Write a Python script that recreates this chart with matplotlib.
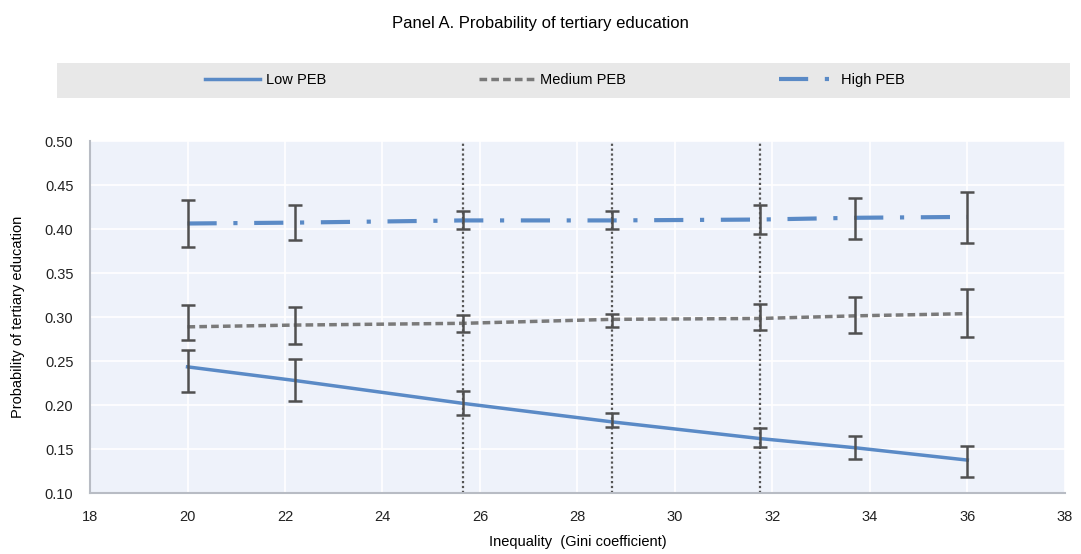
import numpy as np
import matplotlib.pyplot as plt
from matplotlib.lines import Line2D
from matplotlib.patches import Rectangle

plt.rcParams['font.family'] = ['Liberation Sans', 'DejaVu Sans']

# Gini points where predictions were evaluated
gini = [20.0, 22.2, 25.65, 28.7, 31.74, 33.7, 36.0]
# reference lines (vertical, dotted)
gini_marks = [25.65, 28.7, 31.74]

low = [0.2435, 0.228, 0.202, 0.181, 0.162, 0.1515, 0.1375]
low_hi = [0.2625, 0.252, 0.216, 0.191, 0.174, 0.165, 0.1535]
low_lo = [0.215, 0.205, 0.189, 0.175, 0.1525, 0.139, 0.1185]

med = [0.289, 0.291, 0.293, 0.2975, 0.2985, 0.3015, 0.304]
med_hi = [0.314, 0.311, 0.303, 0.304, 0.3145, 0.323, 0.3325]
med_lo = [0.274, 0.270, 0.283, 0.289, 0.285, 0.2815, 0.277]

high = [0.4065, 0.4075, 0.410, 0.410, 0.411, 0.413, 0.414]
high_hi = [0.433, 0.428, 0.421, 0.421, 0.428, 0.4355, 0.442]
high_lo = [0.380, 0.388, 0.400, 0.400, 0.395, 0.389, 0.3845]

blue = '#5a8ac6'
grey = '#7a7a7a'
errc = '#505050'
dashdot = (0, (7, 4, 1, 4))
dashed = (0, (2.2, 1.2))

fig = plt.figure(figsize=(10.81, 5.54), dpi=100)
ax = fig.add_axes([0.0833, 0.110, 0.9017, 0.635])
ax.set_facecolor('#eef2fa')

for xv in gini_marks:
    ax.axvline(xv, color='#555555', lw=1.6, ls=(0, (1, 1.2)), zorder=2)

ax.plot(gini, high, color=blue, lw=3, ls=dashdot, zorder=3)
ax.plot(gini, med, color=grey, lw=2.5, ls=dashed, zorder=3)
ax.plot(gini, low, color=blue, lw=2.5, ls='-', zorder=3)

for mid, hi, lo in [(high, high_hi, high_lo), (med, med_hi, med_lo), (low, low_hi, low_lo)]:
    mid = np.array(mid)
    yerr = [mid - np.array(lo), np.array(hi) - mid]
    ax.errorbar(gini, mid, yerr=yerr, fmt='none', ecolor=errc, elinewidth=1.8,
                capsize=5, capthick=1.8, zorder=4)

ax.set_xlim(18, 38)
ax.set_ylim(0.10, 0.50)
ax.set_xticks(np.arange(18, 39, 2))
ax.set_yticks(np.arange(0.10, 0.51, 0.05))
ax.set_yticklabels(['%.2f' % v for v in np.arange(0.10, 0.51, 0.05)])
ax.grid(True, color='white', lw=1.2, zorder=1)
ax.set_axisbelow(True)
for s in ['top', 'right']:
    ax.spines[s].set_visible(False)
for s in ['left', 'bottom']:
    ax.spines[s].set_color('#b8bcc4')
    ax.spines[s].set_linewidth(1.5)
ax.tick_params(length=0, labelsize=10.5, colors='#222222', pad=12)
ax.set_xlabel('Inequality  (Gini coefficient)', fontsize=10.5, labelpad=8)
ax.set_ylabel('Probability of tertiary education', fontsize=10.5, labelpad=14)

fig.text(0.5, 0.958, 'Panel A. Probability of tertiary education', ha='center', va='center',
         fontsize=12)

# grey band behind the legend
fig.patches.append(Rectangle((0.053, 0.823), 0.937, 0.063, transform=fig.transFigure,
                             facecolor='#e8e8e8', edgecolor='none', zorder=0))

handles = [Line2D([], [], color=blue, lw=2.5),
           Line2D([], [], color=grey, lw=2.5, ls=dashed),
           Line2D([], [], color=blue, lw=3, ls=dashdot)]
fig.legend(handles, ['Low PEB', 'Medium PEB', 'High PEB'], loc='center',
           bbox_to_anchor=(0.513, 0.855), ncol=3, frameon=False,
           fontsize=10.5, columnspacing=10.5, handlelength=3.8, handletextpad=0.4)

fig.savefig('out.png', dpi=100)
